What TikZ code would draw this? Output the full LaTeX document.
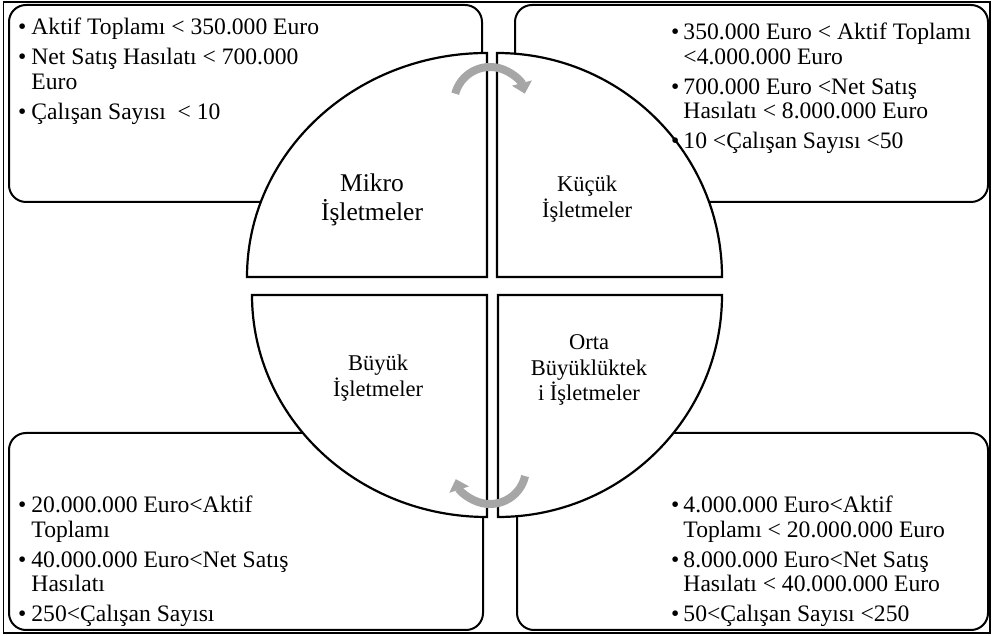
\documentclass[tikz,border=0pt]{standalone}
\usepackage{fontspec}
\setmainfont{Liberation Serif}
\usetikzlibrary{arrows.meta}
\definecolor{arrowgray}{HTML}{A6A6A6}
\tikzset{
  infobox/.style={draw=black, line width=2pt, rounded corners=17pt, fill=white},
  quad/.style={draw=black, line width=2.2pt, fill=white},
  cyc/.style={draw=arrowgray, line width=8pt, -{Triangle[length=11pt,width=20pt]}},
  lbl/.style={align=center, font=\fontsize{22.5}{25.5}\selectfont, inner sep=0pt},
  biglbl/.style={align=center, font=\fontsize{25.5}{28.5}\selectfont, inner sep=0pt},
  txt/.style={inner sep=0pt, anchor=base west, font=\fontsize{23.6}{24.5}\selectfont},
}
\newcommand{\blt}{•}
\begin{document}
\begin{tikzpicture}[x=1pt,y=1pt]
\useasboundingbox (0,0) rectangle (992,636);
% outer frame
\draw[line width=1.5pt] (3.5,3) rectangle (990,634);
% info boxes
\draw[infobox] (9,434) rectangle (482,631);
\draw[infobox] (515,434) rectangle (988,631);
\draw[infobox] (9,6) rectangle (483,203);
\draw[infobox] (517,6) rectangle (988,203);
% quadrants
\draw[quad] (487,359) -- (247,359) arc[start angle=180,end angle=90,x radius=240,y radius=224] -- cycle;
\draw[quad] (497,359) -- (497,583) arc[start angle=90,end angle=0,x radius=225,y radius=224] -- cycle;
\draw[quad] (498,341) -- (722,341) arc[start angle=0,end angle=-90,x radius=224,y radius=222] -- cycle;
\draw[quad] (487,341) -- (487,119) arc[start angle=-90,end angle=-180,x radius=235,y radius=222] -- cycle;
% cycle arrows
\coordinate (ctop) at (490,533);
\coordinate (cbot) at (490,168);
\draw[cyc] ([shift={(165:36)}]ctop) arc[start angle=165,end angle=15,radius=36];
\draw[cyc] ([shift={(-13:36)}]cbot) arc[start angle=-13,end angle=-162,radius=36];
% quadrant labels
\node[biglbl] (mikro) at (372,436) {Mikro\\İşletmeler};
\node[lbl] (kucuk) at (587,437) {Küçük\\İşletmeler};
\node[lbl] (buyuk) at (378,258) {Büyük\\İşletmeler};
\node[lbl] (orta) at (589,266) {Orta\\Büyüklüktek\\i İşletmeler};
% box texts
\node[txt] (tltext) at (18,601) {\begin{tabular}[t]{@{}l@{\hspace{5pt}}l@{}}
\blt & Aktif Toplamı < 350.000 Euro\\[5.5pt]
\blt & Net Satış Hasılatı < 700.000\\
 & Euro\\[5.5pt]
\blt & Çalışan Sayısı~ < 10
\end{tabular}};
\node[txt] (trtext) at (671,596) {\begin{tabular}[t]{@{}l@{\hspace{4pt}}l@{}}
\blt & 350.000 Euro < Aktif Toplamı\\
 & <4.000.000 Euro\\[5.5pt]
\blt & 700.000 Euro <Net Satış\\
 & Hasılatı < 8.000.000 Euro\\[5.5pt]
\blt & 10 <Çalışan Sayısı <50
\end{tabular}};
\node[txt] (bltext) at (18,123) {\begin{tabular}[t]{@{}l@{\hspace{5pt}}l@{}}
\blt & 20.000.000 Euro<Aktif\\
 & Toplamı\\[5.5pt]
\blt & 40.000.000 Euro<Net Satış\\
 & Hasılatı\\[5.5pt]
\blt & 250<Çalışan Sayısı
\end{tabular}};
\node[txt] (brtext) at (671,123) {\begin{tabular}[t]{@{}l@{\hspace{4pt}}l@{}}
\blt & 4.000.000 Euro<Aktif\\
 & Toplamı < 20.000.000 Euro\\[5.5pt]
\blt & 8.000.000 Euro<Net Satış\\
 & Hasılatı < 40.000.000 Euro\\[5.5pt]
\blt & 50<Çalışan Sayısı <250
\end{tabular}};
\end{tikzpicture}
\end{document}
